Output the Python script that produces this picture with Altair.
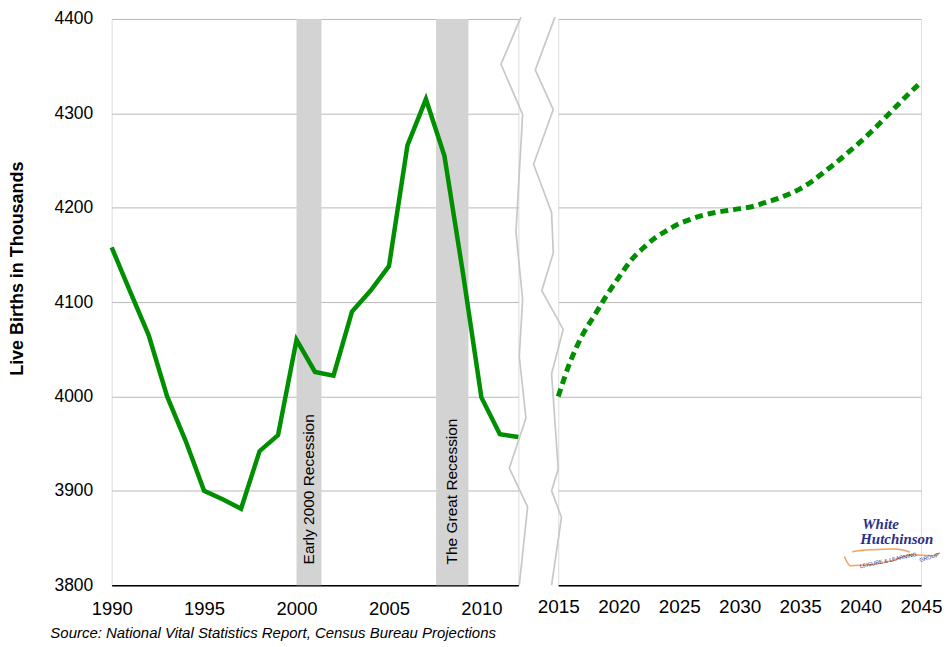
import altair as alt
import pandas as pd

# ---------------- data ----------------
years_hist = list(range(1990, 2013))
births_hist = [4158, 4111, 4065, 4000, 3953, 3900, 3891, 3881, 3942, 3959, 4060,
               4026, 4022, 4090, 4112, 4138, 4266, 4315, 4255, 4131, 3999, 3960, 3957]

years_proj = list(range(2015, 2046))
births_proj = [4000, 4037, 4065, 4086, 4107, 4126, 4144, 4157, 4168, 4176, 4183,
               4188, 4192, 4195, 4197, 4199, 4201, 4205, 4209, 4214, 4220, 4228,
               4238, 4248, 4259, 4270, 4282, 4295, 4308, 4321, 4333]

rec_start = [2000.0, 2007.55]
rec_end = [2001.35, 2009.3]
rec_label = ["Early 2000 Recession", "The Great Recession"]
rec_label_y = [3822, 3822]

y_ticks = [3800, 3900, 4000, 4100, 4200, 4300, 4400]
x_ticks_hist = [1990, 1995, 2000, 2005, 2010]
x_ticks_proj = [2015, 2020, 2025, 2030, 2035, 2040, 2045]

# axis-break zigzags (data units of each panel)
brk_left_x = [2012.14, 2011.06, 2012.23, 2011.87, 2012.23, 2012.05, 2012.41, 2011.51, 2012.50, 2012.05]
brk_left_y = [4402, 4352, 4299, 4174, 4103, 4042, 3977, 3924, 3883, 3800]
brk_right_x = [2014.73, 2013.10, 2014.59, 2012.96, 2014.45, 2014.59, 2013.64, 2015.41, 2014.45, 2015.0, 2014.45, 2015.27, 2014.45]
brk_right_y = [4402, 4346, 4304, 4246, 4195, 4152, 4112, 4071, 4024, 3923, 3900, 3872, 3800]

# logo
logo_text = ["White", "Hutchinson"]
logo_x = [2040.14, 2039.97]
logo_y = [3865.0, 3849.0]
logo_small = ["LEISURE & LEARNING", "GROUP"]
logo_small_x = [2042.28, 2045.66]
logo_small_y = [3826.5, 3829.5]
logo_small_angle = [348, 344]
swoosh_up_x = [2039.31, 2040.13, 2040.96, 2042.61, 2043.59, 2044.09]
swoosh_up_y = [3835.5, 3837.0, 3837.6, 3838.2, 3837.0, 3835.0]
swoosh_lo_x = [2038.66, 2039.15, 2040.96, 2042.61, 2044.26, 2045.99, 2046.57]
swoosh_lo_y = [3830.2, 3820.7, 3821.8, 3826.0, 3832.3, 3831.3, 3834.5]

GREEN = "#008f00"
GRID = "#b9b9b9"
BRK = "#c8c8c8"
NAVY = "#2b2f87"
ORANGE = "#f3a35e"
FONT = "Liberation Sans"

hist = pd.DataFrame({"year": years_hist, "births": births_hist})
proj = pd.DataFrame({"year": years_proj, "births": births_proj})
rec = pd.DataFrame({"start": rec_start, "end": rec_end, "label": rec_label,
                    "ly": rec_label_y})
bl = pd.DataFrame({"x": brk_left_x, "y": brk_left_y, "o": range(len(brk_left_x))})
br = pd.DataFrame({"x": brk_right_x, "y": brk_right_y, "o": range(len(brk_right_x))})
logo = pd.DataFrame({"t": logo_text, "x": logo_x, "y": logo_y})
logo_s = pd.DataFrame({"t": logo_small, "x": logo_small_x, "y": logo_small_y,
                       "a": logo_small_angle})
sw = pd.DataFrame({"x": swoosh_up_x + swoosh_lo_x, "y": swoosh_up_y + swoosh_lo_y,
                   "g": ["u"] * len(swoosh_up_x) + ["l"] * len(swoosh_lo_x),
                   "o": list(range(len(swoosh_up_x))) + list(range(len(swoosh_lo_x)))})

H = 568
yscale = alt.Scale(domain=[3800, 4400], nice=False, zero=False)
xl_scale = alt.Scale(domain=[1990, 2012], nice=False, zero=False)
xr_scale = alt.Scale(domain=[2015, 2045], nice=False, zero=False)

y_axis_left = alt.Axis(values=y_ticks, format="d", grid=True, gridColor=GRID, gridWidth=1,
                       domain=False, ticks=False, labelPadding=19, labelFontSize=17.5,
                       labelFont=FONT, labelColor="#000",
                       title="Live Births in Thousands", titleFont=FONT, titleFontSize=18,
                       titleFontWeight="bold", titleColor="#000", titleAngle=270,
                       titleX=-94, titleY=250, titleAlign="center", titleBaseline="middle")
x_axis_left = alt.Axis(values=x_ticks_hist, format="d", grid=False, ticks=False,
                       domainColor="#000", domainWidth=1.5, labelPadding=14,
                       labelFontSize=18.5, labelFont=FONT, labelColor="#000",
                       labelFlush=False, labelOverlap=False,
                       title="Source: National Vital Statistics Report, Census Bureau Projections",
                       titleFont=FONT, titleFontSize=15, titleFontStyle="italic",
                       titleFontWeight="normal", titleColor="#000",
                       titleX=-62, titleY=48, titleAlign="left", titleBaseline="middle")

bands = alt.Chart(rec).mark_rect(color="#d3d3d3").encode(
    x=alt.X("start:Q", scale=xl_scale, axis=x_axis_left),
    x2="end:Q",
    y=alt.value(0), y2=alt.value(H),
)
band_text = alt.Chart(rec).mark_text(angle=270, align="left", baseline="middle",
                                     font=FONT, fontSize=15.5, color="#000").encode(
    x=alt.X("mid:Q", scale=xl_scale),
    y=alt.Y("ly:Q", scale=yscale),
    text="label:N",
).transform_calculate(mid="(datum.start + datum.end) / 2")

line_hist = alt.Chart(hist).mark_line(color=GREEN, strokeWidth=4.5, strokeJoin="miter").encode(
    x=alt.X("year:Q", scale=xl_scale, axis=x_axis_left),
    y=alt.Y("births:Q", scale=yscale, axis=y_axis_left),
)
brk_l = alt.Chart(bl).mark_line(color=BRK, strokeWidth=1.7).encode(
    x=alt.X("x:Q", scale=xl_scale), y=alt.Y("y:Q", scale=yscale), order="o:Q")

left = alt.layer(bands, band_text, line_hist, brk_l).properties(width=408, height=H)

y_axis_right = alt.Axis(values=y_ticks, grid=True, gridColor=GRID, gridWidth=1,
                        labels=False, domain=False, ticks=False, title=None)
x_axis_right = alt.Axis(values=x_ticks_proj, format="d", grid=False, ticks=False,
                        domainColor="#000", domainWidth=1.5, labelPadding=12,
                        labelFontSize=19, labelFont=FONT, labelColor="#000",
                        labelFlush=False, labelOverlap=False, title=None)

line_proj = alt.Chart(proj).mark_line(color=GREEN, strokeWidth=5, strokeDash=[8, 5],
                                      interpolate="monotone").encode(
    x=alt.X("year:Q", scale=xr_scale, axis=x_axis_right),
    y=alt.Y("births:Q", scale=yscale, axis=y_axis_right),
)
brk_r = alt.Chart(br).mark_line(color=BRK, strokeWidth=1.7).encode(
    x=alt.X("x:Q", scale=xr_scale), y=alt.Y("y:Q", scale=yscale), order="o:Q")
logo_main = alt.Chart(logo).mark_text(align="left", baseline="middle", font="Liberation Serif",
                                      fontSize=15, fontWeight="bold", fontStyle="italic",
                                      color=NAVY).encode(
    x=alt.X("x:Q", scale=xr_scale), y=alt.Y("y:Q", scale=yscale), text="t:N")
logo_sm = alt.Chart(logo_s).mark_text(align="center", baseline="middle", font=FONT,
                                      fontSize=5.5, color=NAVY).encode(
    x=alt.X("x:Q", scale=xr_scale), y=alt.Y("y:Q", scale=yscale), text="t:N",
    angle=alt.Angle("a:Q", scale=None))
swoosh = alt.Chart(sw).mark_line(color=ORANGE, strokeWidth=1.5, interpolate="monotone").encode(
    x=alt.X("x:Q", scale=xr_scale), y=alt.Y("y:Q", scale=yscale),
    detail="g:N", order="o:Q")

right = alt.layer(line_proj, brk_r, swoosh, logo_main, logo_sm).properties(width=364, height=H)

chart = alt.HConcatChart(hconcat=[left, right], spacing=40, bounds="flush").resolve_scale(
    x="independent").properties(padding={"left": 0, "top": 0, "right": 0, "bottom": 0}
).configure_view(stroke=None).configure(background="white")

chart.save("out.html", embed_options={"renderer": "svg", "actions": False})
